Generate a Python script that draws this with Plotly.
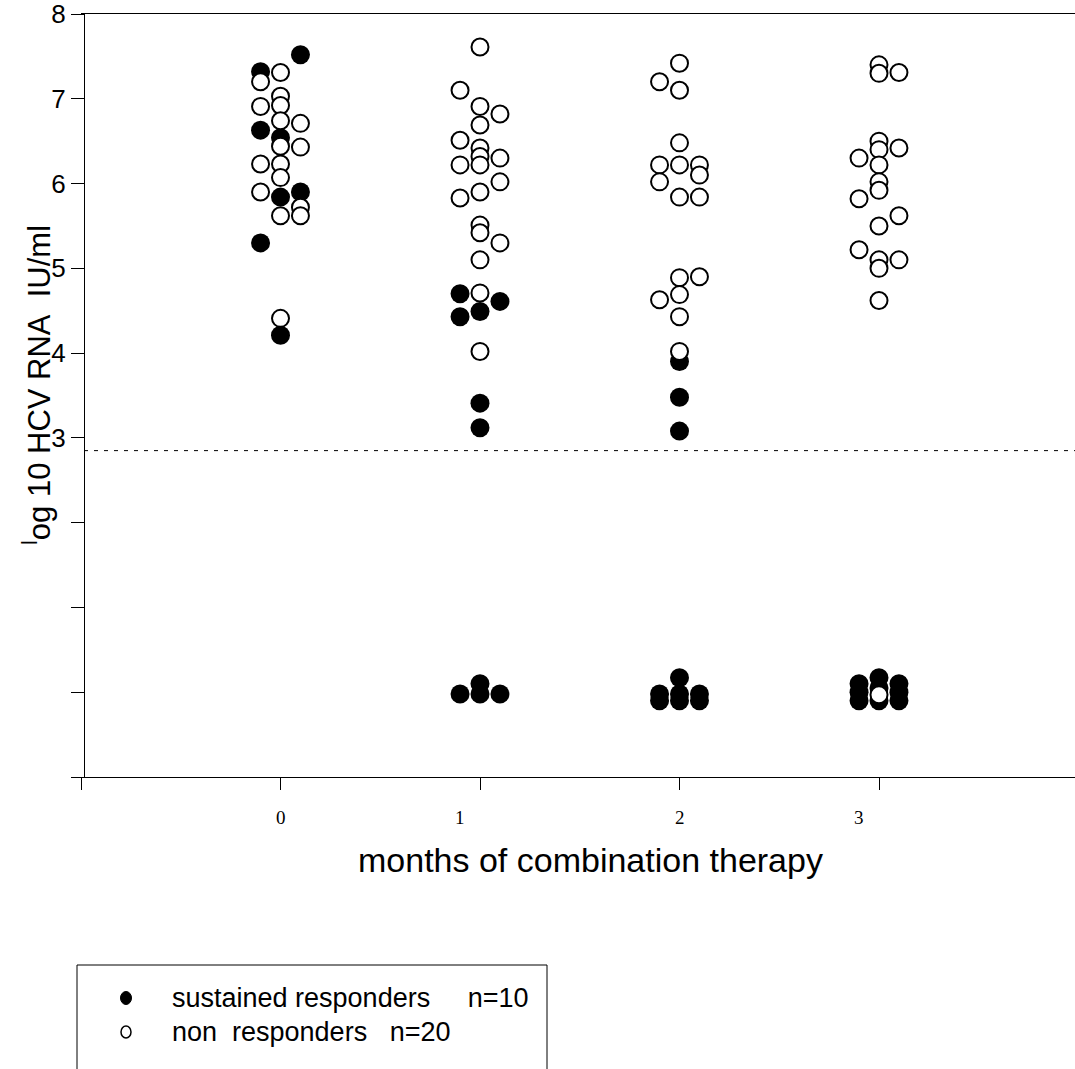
import plotly.graph_objects as go

# ---- data: log10 HCV RNA (IU/ml) by month of combination therapy ----
# lane: -1 = left, 0 = centre, +1 = right column within each month
resp_month = [0, 0, 0, 0, 0, 0, 0, 0,
              1, 1, 1, 1, 1, 1, 1, 1, 1, 1,
              2, 2, 2, 2, 2, 2, 2, 2, 2, 2,
              3, 3, 3, 3, 3, 3, 3, 3, 3]
resp_lane = [-1, -1, -1, 0, 0, 0, 1, 1,
             -1, -1, 0, 0, 0, 1, -1, 0, 0, 1,
             0, 0, 0, -1, -1, 0, 0, 0, 1, 1,
             -1, -1, -1, 0, 0, 0, 1, 1, 1]
resp_value = [7.32, 6.63, 5.30, 6.54, 5.84, 4.21, 7.52, 5.90,
              4.70, 4.43, 4.49, 3.41, 3.12, 4.61, -0.02, 0.10, -0.02, -0.02,
              3.90, 3.48, 3.08, -0.02, -0.10, 0.17, -0.02, -0.10, -0.02, -0.10,
              0.10, 0.00, -0.10, 0.17, 0.05, -0.10, 0.10, 0.00, -0.10]

non_month = [0] * 17 + [1] * 20 + [2] * 17 + [3] * 19
non_lane = ([-1, -1, -1, -1] + [0] * 9 + [1, 1, 1, 1]
            + [-1, -1, -1, -1] + [0] * 12 + [1, 1, 1, 1]
            + [-1, -1, -1, -1] + [0] * 9 + [1, 1, 1, 1]
            + [-1, -1, -1] + [0] * 12 + [1, 1, 1, 1])
non_value = ([7.20, 6.91, 6.23, 5.90,
              7.31, 7.03, 6.92, 6.74, 6.44, 6.23, 6.07, 5.62, 4.41,
              6.71, 6.43, 5.72, 5.62]
             + [7.10, 6.51, 6.22, 5.83,
                7.61, 6.91, 6.69, 6.42, 6.32, 6.22, 5.90, 5.51, 5.42, 5.10, 4.71, 4.02,
                6.82, 6.30, 6.02, 5.30]
             + [7.20, 6.22, 6.02, 4.63,
                7.42, 7.10, 6.48, 6.22, 5.84, 4.89, 4.69, 4.43, 4.02,
                6.22, 6.10, 5.84, 4.90]
             + [6.30, 5.82, 5.22,
                7.40, 7.30, 6.50, 6.40, 6.22, 6.02, 5.92, 5.50, 5.10, 5.00, 4.62, -0.03,
                7.31, 6.42, 5.62, 5.10])

month_ticks = [0, 1, 2, 3]
month_labels = ["0", "1", "2", "3"]
y_ticks = [3, 4, 5, 6, 7, 8]
y_labels = ["3", "4", "5", "6", "7", "8"]
detection_limit = 2.85

legend_labels = ["sustained\u00a0responders\u00a0\u00a0\u00a0\u00a0\u00a0n=10",
                 "non\u00a0\u00a0responders\u00a0\u00a0\u00a0n=20"]

# ---- geometry helpers ----
W, H = 1075, 1069
ML, MR, MT, MB = 81, 0, 14, 292
PW, PH = W - ML - MR, H - MT - MB
LANE_STEP = 0.1


def px_x(px):
    return (px - ML) / PW


def px_y(py):
    return (H - MB - py) / PH


def lane_x(months, lanes):
    return [m + LANE_STEP * l for m, l in zip(months, lanes)]


SANS = "Liberation Sans, Arial, sans-serif"
SERIF = "Liberation Serif, Times New Roman, serif"

fig = go.Figure()

fig.add_trace(go.Scatter(
    x=lane_x(resp_month, resp_lane), y=resp_value, mode="markers",
    marker=dict(symbol="circle", size=19, color="black",
                line=dict(color="black", width=0)),
    name="sustained responders", showlegend=False, hoverinfo="skip"))

fig.add_trace(go.Scatter(
    x=lane_x(non_month, non_lane), y=non_value, mode="markers",
    marker=dict(symbol="circle", size=17, color="white",
                line=dict(color="black", width=2)),
    name="non responders", showlegend=False, hoverinfo="skip"))

shapes = [
    # detection limit
    dict(type="line", xref="paper", yref="y", x0=px_x(84), x1=1, y0=detection_limit,
         y1=detection_limit, line=dict(color="black", width=1, dash="4px,6px")),
    # legend frame
    dict(type="rect", xref="paper", yref="paper", x0=px_x(77), x1=px_x(547),
         y0=px_y(1080), y1=px_y(965), line=dict(color="black", width=1),
         fillcolor="rgba(0,0,0,0)"),
    # legend symbols
    dict(type="circle", xref="paper", yref="paper", x0=px_x(120.5), x1=px_x(131.5),
         y0=px_y(1004.5), y1=px_y(991.5), line=dict(color="black", width=1),
         fillcolor="black"),
    dict(type="circle", xref="paper", yref="paper", x0=px_x(121), x1=px_x(131),
         y0=px_y(1038), y1=px_y(1026), line=dict(color="black", width=1.5),
         fillcolor="white"),
]

annotations = []
for m, lab, shift in zip(month_ticks, month_labels, [0, -20, 0, -20]):
    annotations.append(dict(x=m, y=px_y(817), xref="x", yref="paper", text=lab,
                            showarrow=False, xshift=shift, xanchor="center",
                            yanchor="middle", font=dict(family=SERIF, size=19,
                                                        color="black")))
annotations.append(dict(x=px_x(590), y=px_y(860), xref="paper", yref="paper",
                        text="months of combination therapy", showarrow=False,
                        xanchor="center", yanchor="middle",
                        font=dict(family=SANS, size=34, color="black")))
annotations.append(dict(x=px_x(37), y=px_y(385), xref="paper", yref="paper",
                        text="<sup>l</sup>og 10 HCV RNA\u00a0\u00a0IU/ml",
                        showarrow=False, textangle=-90, xanchor="center",
                        yanchor="middle",
                        font=dict(family=SANS, size=31, color="black")))
for lab, py in zip(legend_labels, [998, 1032]):
    annotations.append(dict(x=px_x(170), y=px_y(py), xref="paper", yref="paper",
                            text=lab, showarrow=False, xanchor="left",
                            yanchor="middle",
                            font=dict(family=SANS, size=27, color="black")))

fig.update_layout(
    width=W, height=H,
    margin=dict(l=ML, r=MR, t=MT, b=MB, pad=0),
    paper_bgcolor="white", plot_bgcolor="white",
    showlegend=False,
    shapes=shapes, annotations=annotations,
    xaxis=dict(range=[-1, -1 + PW / 199.5], tickvals=[-1] + month_ticks,
               showticklabels=False, ticks="outside", ticklen=12, tickwidth=1,
               tickcolor="black", showline=True, linecolor="black", linewidth=1,
               mirror=True, showgrid=False, zeroline=False),
    yaxis=dict(range=[-1, 8], tickvals=y_ticks, ticktext=y_labels,
               ticks="outside", ticklen=13, tickwidth=1, tickcolor="black",
               minor=dict(tick0=0, dtick=1, ticks="outside", ticklen=13,
                          tickwidth=1, tickcolor="black", showgrid=False),
               anchor="free", position=px_x(84), showline=True,
               linecolor="black", linewidth=1, showgrid=False, zeroline=False,
               ticklabeloverflow="allow",
               tickfont=dict(family=SANS, size=26, color="black")),
)

fig.write_html("out.html")
